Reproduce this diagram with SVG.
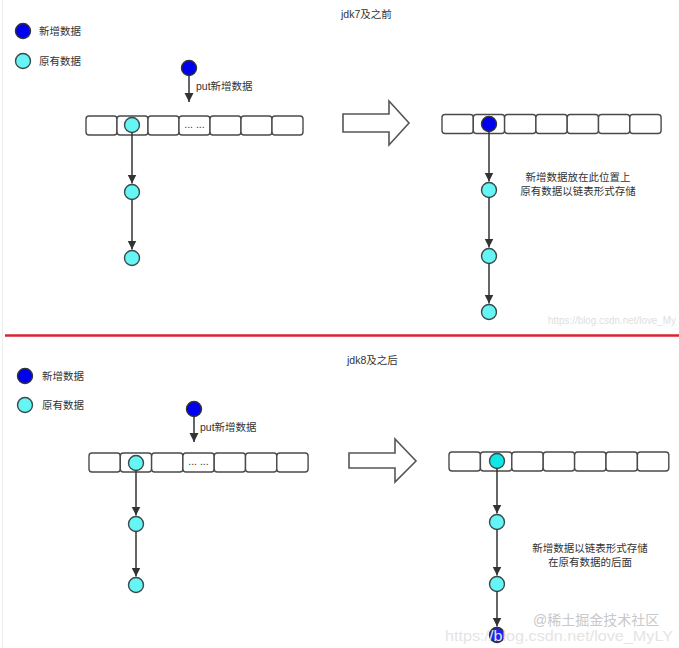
<svg xmlns="http://www.w3.org/2000/svg" width="679" height="648" viewBox="0 0 679 648">
<defs>
<style>
.t{font-family:"Liberation Sans","Noto Sans CJK SC",sans-serif;font-size:10.5px;fill:#333}
.cell{fill:#fff;stroke:#4a4a4a;stroke-width:1.4}
.new{fill:#0000f0;stroke:#333;stroke-width:1.4}
.old{fill:#66f5f5;stroke:#3a4a4a;stroke-width:1.4}
.old2{fill:#10e8e8;stroke:#3a4a4a;stroke-width:1.4}
.ln{stroke:#333;stroke-width:1.5;fill:none}
.big{fill:#fff;stroke:#555;stroke-width:1.6}
.wm{font-family:"Liberation Sans","Noto Sans CJK SC",sans-serif;fill:#cfcfcf}
</style>
<marker id="ah" markerWidth="9" markerHeight="11" refX="9" refY="4.5" orient="auto" markerUnits="userSpaceOnUse" viewBox="0 0 9 11">
<path d="M0,0 L9,4.5 L0,9 Z" fill="#333"/>
</marker>
</defs>
<rect width="679" height="648" fill="#fff"/>
<line x1="2.5" y1="0" x2="2.5" y2="648" stroke="#eeeeee" stroke-width="1"/>
<line x1="5" y1="335.5" x2="679" y2="335.5" stroke="#d9262c" stroke-width="2.4"/>

<text class="wm" x="548" y="324" font-size="10" textLength="128" lengthAdjust="spacingAndGlyphs" style="fill:#e0e0e0">https://blog.csdn.net/love_My</text>

<!-- top section -->
<g id="legend-top">
<circle class="new" cx="23" cy="31" r="7.5"/>
<text class="t" x="39" y="35">新增数据</text>
<circle class="old" cx="23" cy="61" r="7.5"/>
<text class="t" x="39" y="65">原有数据</text>
</g>
<text class="t" x="341" y="18">jdk7及之前</text>

<g id="put-top">
<circle class="new" cx="189" cy="68" r="7.5"/>
<text class="t" x="196" y="90">put新增数据</text>
</g>

<g id="array-top-left">
<rect class="cell" x="86" y="116" width="31" height="19" rx="3"/>
<rect class="cell" x="117" y="116" width="31" height="19" rx="3"/>
<rect class="cell" x="148" y="116" width="31" height="19" rx="3"/>
<rect class="cell" x="179" y="116" width="31" height="19" rx="3"/>
<rect class="cell" x="210" y="116" width="31" height="19" rx="3"/>
<rect class="cell" x="241" y="116" width="31" height="19" rx="3"/>
<rect class="cell" x="272" y="116" width="31" height="19" rx="3"/>
<text class="t" x="194.5" y="128" font-size="8" text-anchor="middle">... ...</text>
<circle class="old" cx="132" cy="125" r="7.5"/>
</g>
<g id="tl-n1"><circle class="old" cx="132" cy="192" r="7.5"/></g>
<g id="tl-n2"><circle class="old" cx="132" cy="258" r="7.5"/></g>

<g id="bigarrow-top"><path class="big" d="M343,114 H389 V101 L409,123 L389,145 V132 H343 Z"/></g>

<g id="array-top-right">
<rect class="cell" x="442" y="114.5" width="31.3" height="19" rx="3"/>
<rect class="cell" x="473.3" y="114.5" width="31.3" height="19" rx="3"/>
<rect class="cell" x="504.6" y="114.5" width="31.3" height="19" rx="3"/>
<rect class="cell" x="535.9" y="114.5" width="31.3" height="19" rx="3"/>
<rect class="cell" x="567.2" y="114.5" width="31.3" height="19" rx="3"/>
<rect class="cell" x="598.5" y="114.5" width="31.3" height="19" rx="3"/>
<rect class="cell" x="629.8" y="114.5" width="31.3" height="19" rx="3"/>
<circle class="new" cx="489" cy="124" r="7.5"/>
</g>
<g id="tr-n1"><circle class="old" cx="489" cy="190" r="7.5"/></g>
<g id="tr-n2"><circle class="old" cx="489" cy="256" r="7.5"/></g>
<g id="tr-n3"><circle class="old" cx="489" cy="312" r="7.5"/></g>
<text class="t" x="578" y="181" text-anchor="middle">新增数据放在此位置上</text>
<text class="t" x="578" y="195" text-anchor="middle">原有数据以链表形式存储</text>

<!-- bottom section -->
<g id="legend-bottom">
<circle class="new" cx="25" cy="376" r="7.5"/>
<text class="t" x="42" y="380">新增数据</text>
<circle class="old" cx="25" cy="405" r="7.5"/>
<text class="t" x="42" y="409">原有数据</text>
</g>
<text class="t" x="347" y="364">jdk8及之后</text>

<g id="put-bottom">
<circle class="new" cx="194" cy="409" r="7.5"/>
<text class="t" x="200" y="431">put新增数据</text>
</g>

<g id="array-bottom-left">
<rect class="cell" x="89" y="453" width="31.3" height="19" rx="3"/>
<rect class="cell" x="120.3" y="453" width="31.3" height="19" rx="3"/>
<rect class="cell" x="151.6" y="453" width="31.3" height="19" rx="3"/>
<rect class="cell" x="182.9" y="453" width="31.3" height="19" rx="3"/>
<rect class="cell" x="214.2" y="453" width="31.3" height="19" rx="3"/>
<rect class="cell" x="245.5" y="453" width="31.3" height="19" rx="3"/>
<rect class="cell" x="276.8" y="453" width="31.3" height="19" rx="3"/>
<text class="t" x="198.5" y="465" font-size="8" text-anchor="middle">... ...</text>
<circle class="old" cx="136" cy="463" r="7.5"/>
</g>
<g id="bl-n1"><circle class="old" cx="136" cy="524" r="7.5"/></g>
<g id="bl-n2"><circle class="old" cx="136" cy="585" r="7.5"/></g>

<g id="bigarrow-bottom"><path class="big" d="M349,453 H395 V439 L416,461 L395,482 V468 H349 Z"/></g>

<g id="array-bottom-right">
<rect class="cell" x="449" y="452" width="31.4" height="19" rx="3"/>
<rect class="cell" x="480.4" y="452" width="31.4" height="19" rx="3"/>
<rect class="cell" x="511.8" y="452" width="31.4" height="19" rx="3"/>
<rect class="cell" x="543.2" y="452" width="31.4" height="19" rx="3"/>
<rect class="cell" x="574.6" y="452" width="31.4" height="19" rx="3"/>
<rect class="cell" x="606" y="452" width="31.4" height="19" rx="3"/>
<rect class="cell" x="637.4" y="452" width="31.4" height="19" rx="3"/>
<circle class="old2" cx="497" cy="461" r="7.5"/>
</g>
<g id="br-n1"><circle class="old" cx="497" cy="522" r="7.5"/></g>
<g id="br-n2"><circle class="old" cx="497" cy="584" r="7.5"/></g>
<g id="br-n3"><circle class="new" cx="497" cy="635" r="7.5" style="fill:#2020f0"/></g>
<text class="t" x="590" y="552" text-anchor="middle">新增数据以链表形式存储</text>
<text class="t" x="590" y="566" text-anchor="middle">在原有数据的后面</text>

<g id="connectors">
<line class="ln" x1="189" y1="75.5" x2="189" y2="102" marker-end="url(#ah)"/>
<line class="ln" x1="132" y1="132.5" x2="132" y2="183.5" marker-end="url(#ah)"/>
<line class="ln" x1="132" y1="199.5" x2="132" y2="249.5" marker-end="url(#ah)"/>
<line class="ln" x1="489" y1="131.5" x2="489" y2="181.5" marker-end="url(#ah)"/>
<line class="ln" x1="489" y1="197.5" x2="489" y2="247.5" marker-end="url(#ah)"/>
<line class="ln" x1="489" y1="263.5" x2="489" y2="303.5" marker-end="url(#ah)"/>
<line class="ln" x1="194" y1="416.5" x2="194" y2="442" marker-end="url(#ah)"/>
<line class="ln" x1="136" y1="470.5" x2="136" y2="515.5" marker-end="url(#ah)"/>
<line class="ln" x1="136" y1="531.5" x2="136" y2="576.5" marker-end="url(#ah)"/>
<line class="ln" x1="497" y1="468.5" x2="497" y2="513.5" marker-end="url(#ah)"/>
<line class="ln" x1="497" y1="529.5" x2="497" y2="575.5" marker-end="url(#ah)"/>
<line class="ln" x1="497" y1="591.5" x2="497" y2="626.5" marker-end="url(#ah)"/>
</g>

<text class="wm" x="533" y="625" font-size="14" style="fill:#c8c8c8">@稀土掘金技术社区</text>
<text class="wm" x="445" y="641" font-size="14" textLength="228" lengthAdjust="spacingAndGlyphs" style="fill:#e4e4e4">https://blog.csdn.net/love_MyLY</text>
</svg>
